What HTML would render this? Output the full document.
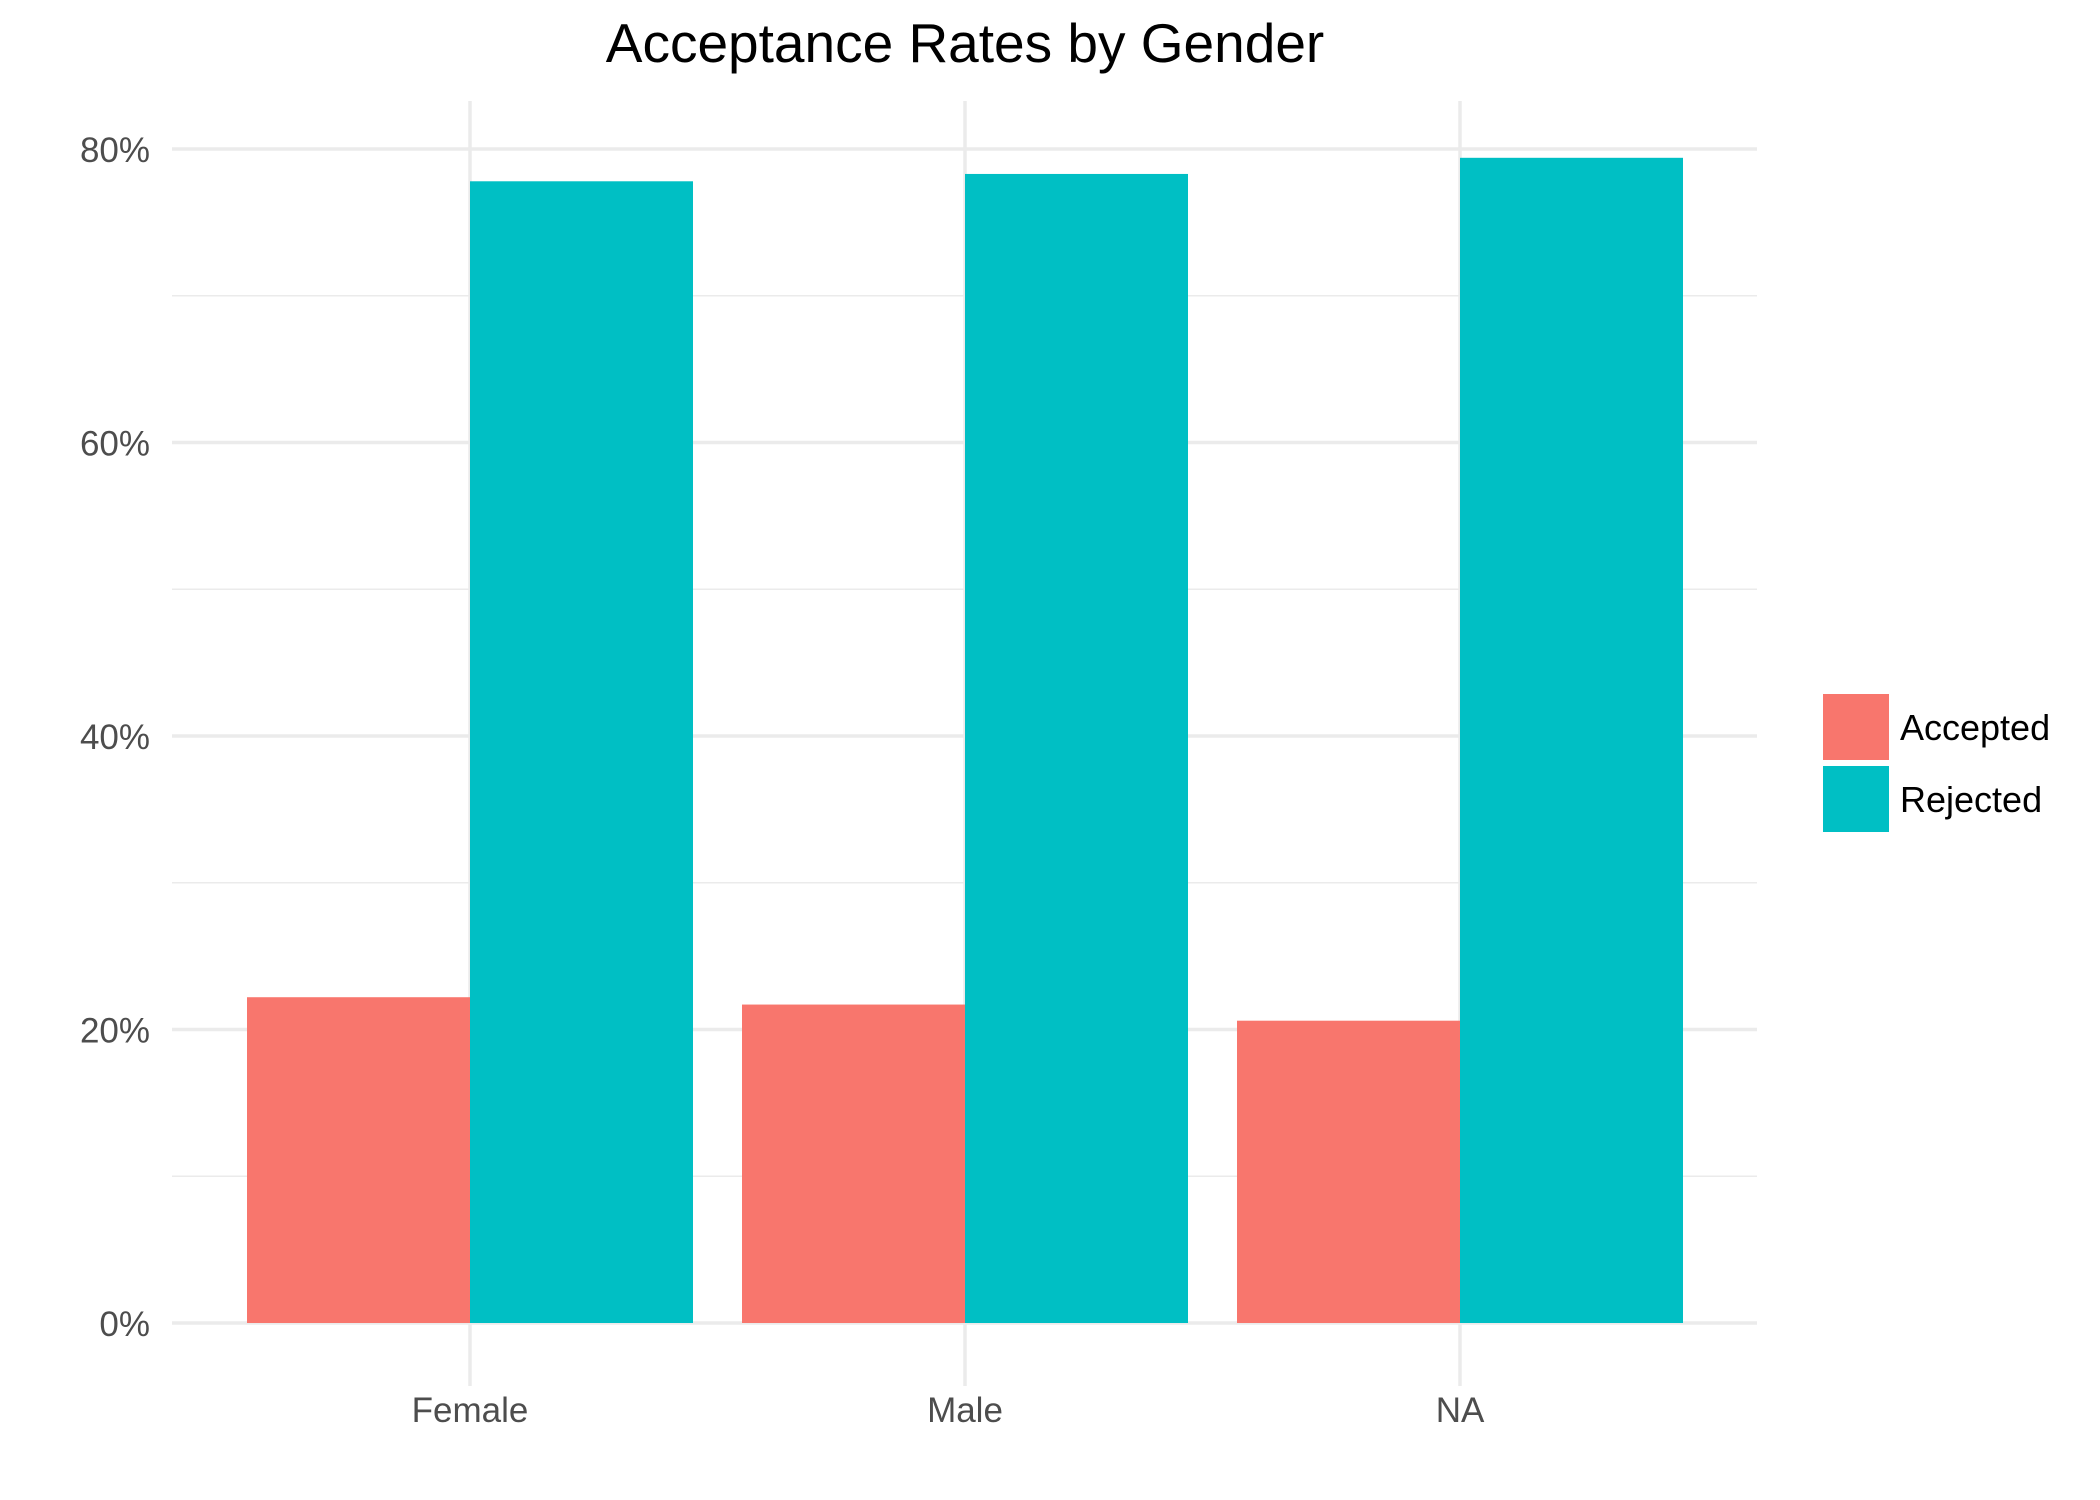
<!DOCTYPE html>
<html><head><meta charset="utf-8"><style>
html,body{margin:0;padding:0;background:#fff;}
svg{display:block;font-family:"Liberation Sans",Arial,sans-serif;}
</style></head><body>
<svg id="chart" width="2100" height="1500" viewBox="0 0 2100 1500">
<text x="965" y="62" font-size="55" text-anchor="middle" fill="#000">Acceptance Rates by Gender</text>
<g id="grid"></g>
<g id="bars"></g>
<g id="yaxis"></g>
<g id="xaxis"></g>
<g>
<rect x="1823" y="694" width="66" height="66" fill="#F8766D"/>
<text x="1900" y="740" font-size="36" fill="#000">Accepted</text>
<rect x="1823" y="766" width="66" height="66" fill="#00BFC4"/>
<text x="1900" y="812" font-size="36" fill="#000">Rejected</text>
</g>
</svg>
<script>
const categories = ["Female","Male","NA"];
const accepted = [22.2, 21.7, 20.6];
const rejected = [77.8, 78.3, 79.4];
const yTicks = [0,20,40,60,80];
const yTickLabels = ["0%","20%","40%","60%","80%"];
const yMinor = [10,30,50,70];

const NS="http://www.w3.org/2000/svg";
const L=172,R=1757,Y0=1323,Y80=149;
function y(v){return Y0-(v/80)*(Y0-Y80);}
const band=(R-L)/3;
function xc(i){return 470+i*495;}
const bw=223;
function mk(tag,attrs,parent){const e=document.createElementNS(NS,tag);for(const k in attrs)e.setAttribute(k,attrs[k]);parent.appendChild(e);return e;}
const grid=document.getElementById('grid'),bars=document.getElementById('bars'),ya=document.getElementById('yaxis'),xa=document.getElementById('xaxis');
yMinor.forEach(v=>{const l=mk('line',{x1:L,x2:R,y1:y(v),y2:y(v),stroke:'#ebebeb','stroke-width':1.5},grid);

});
yTicks.forEach((v,i)=>{const l=mk('line',{x1:L,x2:R,y1:y(v),y2:y(v),stroke:'#ebebeb','stroke-width':3.5},grid);


const t=mk('text',{x:150,y:y(v)+13,'font-size':35,'text-anchor':'end',fill:'#4d4d4d'},ya);t.textContent=yTickLabels[i];

});
categories.forEach((c,i)=>{const l=mk('line',{x1:xc(i),x2:xc(i),y1:101,y2:1386,stroke:'#ebebeb','stroke-width':3.5},grid);


const a=mk('rect',{x:xc(i)-bw,y:y(accepted[i]),width:bw,height:Y0-y(accepted[i]),fill:'#F8766D'},bars);


const r=mk('rect',{x:xc(i),y:y(rejected[i]),width:bw,height:Y0-y(rejected[i]),fill:'#00BFC4'},bars);


const t=mk('text',{x:xc(i),y:1422,'font-size':35,'text-anchor':'middle',fill:'#4d4d4d'},xa);t.textContent=c;

});
</script>
</body></html>
